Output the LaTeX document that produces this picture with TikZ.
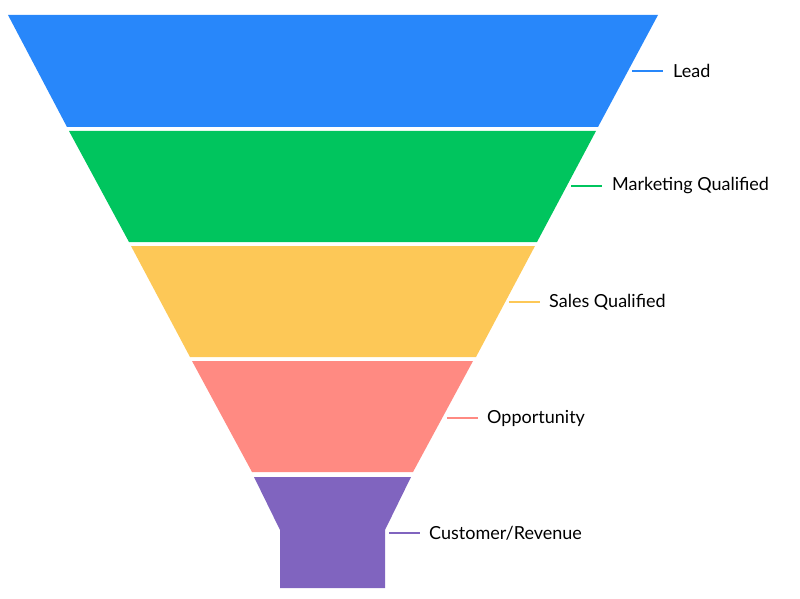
\documentclass[tikz,border=0pt]{standalone}
\usepackage{fontspec}
\setmainfont{Lato}
\usetikzlibrary{positioning}
\definecolor{leadblue}{HTML}{2887FA}
\definecolor{mqlgreen}{HTML}{00C55E}
\definecolor{sqlyellow}{HTML}{FDC857}
\definecolor{oppred}{HTML}{FF8A82}
\definecolor{custpurple}{HTML}{8064BF}
\begin{document}
\begin{tikzpicture}[x=1pt,y=-1pt,
    tick/.style={line width=2.5pt},
    stage/.style={anchor=west, inner sep=0pt, font=\fontsize{18}{20}\selectfont}]
    \useasboundingbox (0,0) rectangle (800,599);
    % Funnel
    \fill[leadblue] (8,15) -- (658,15) -- (598,127) -- (67,127) -- cycle;
    \fill[mqlgreen] (69,131) -- (596,131) -- (537,242) -- (129,242) -- cycle;
    \fill[sqlyellow] (131,246) -- (535,246) -- (476,357) -- (190,357) -- cycle;
    \fill[oppred] (192,361) -- (473,361) -- (413,472) -- (252,472) -- cycle;
    \fill[custpurple] (254,477) -- (411,477) -- (385,530) -- (385,588) -- (280,588) -- (280,530) -- cycle;

    % Labels
    \coordinate (c1) at (632,71);
    \coordinate (c2) at (571,186);
    \coordinate (c3) at (509,302);
    \coordinate (c4) at (447,418);
    \coordinate (c5) at (389,533);
    \node[stage, right=10pt of c1, xshift=31pt] (lead) {Lead};
    \node[stage, right=10pt of c2, xshift=31pt] (mql) {Marketing Qualified};
    \node[stage, right=9pt of c3, xshift=31pt] (sql) {Sales Qualified};
    \node[stage, right=9pt of c4, xshift=31pt] (opp) {Opportunity};
    \node[stage, right=9pt of c5, xshift=31pt] (cust) {Customer/Revenue};
    \draw[tick, leadblue] (c1) -- ++(31,0);
    \draw[tick, mqlgreen] (c2) -- ++(31,0);
    \draw[tick, sqlyellow] (c3) -- ++(31,0);
    \draw[tick, oppred] (c4) -- ++(31,0);
    \draw[tick, custpurple] (c5) -- ++(31,0);
\end{tikzpicture}
\end{document}
